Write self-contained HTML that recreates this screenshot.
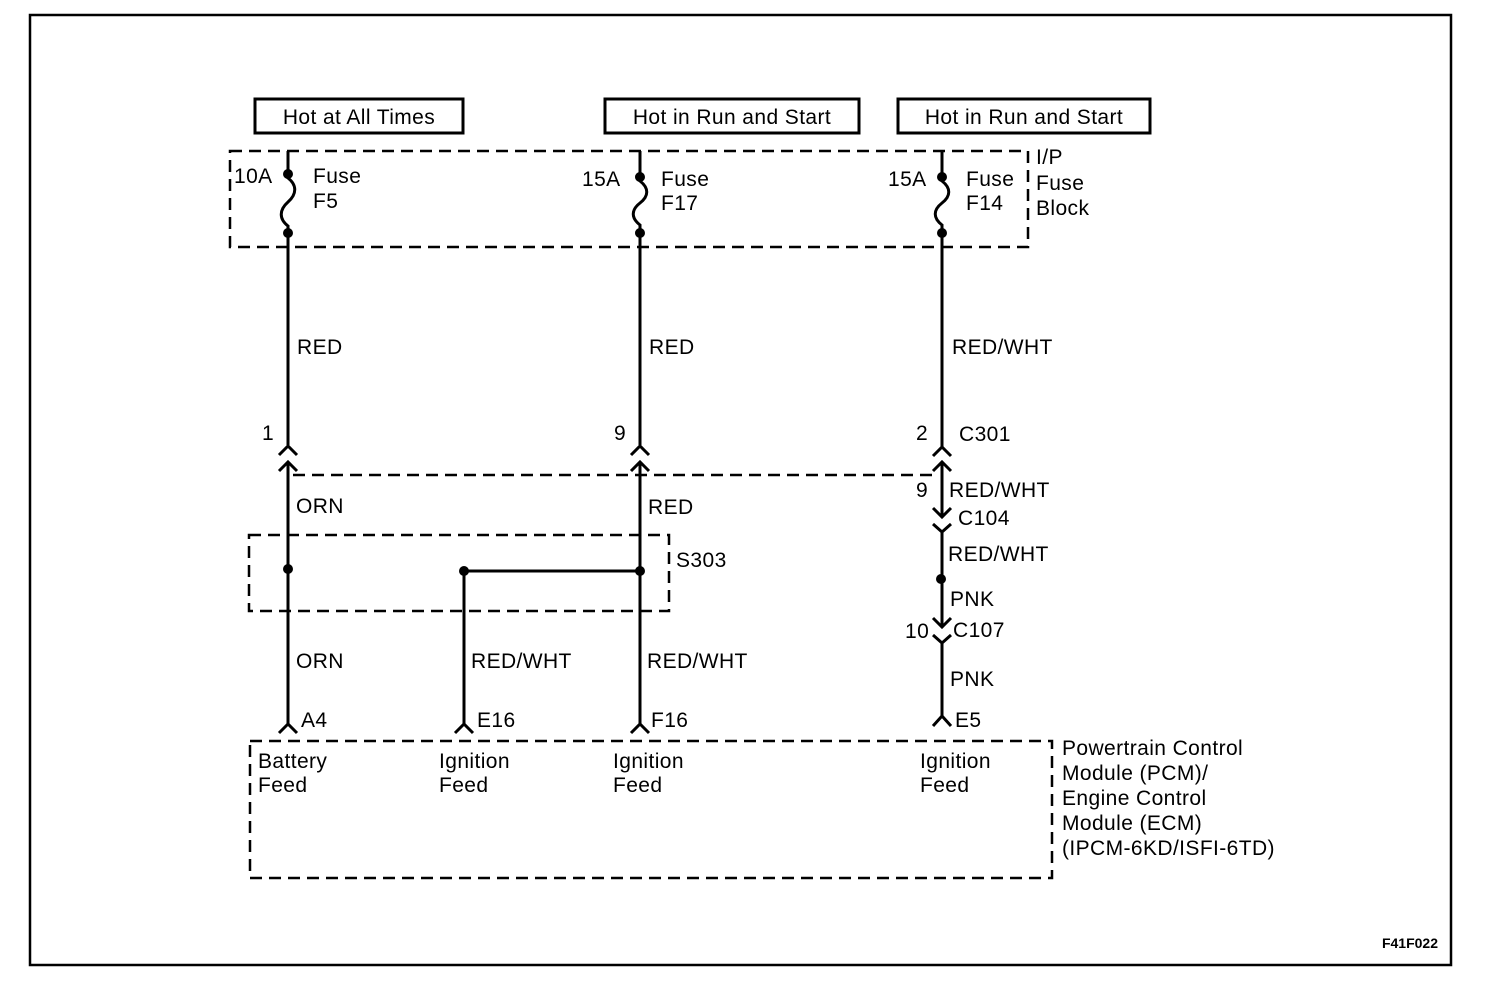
<!DOCTYPE html>
<html><head><meta charset="utf-8"><style>
html,body{margin:0;padding:0;background:#fff;}
svg{display:block;}
text{font-family:"Liberation Sans",Arial,sans-serif;font-size:21px;letter-spacing:0.4px;fill:#000;}
</style></head><body>
<svg width="1504" height="986" viewBox="0 0 1504 986" xmlns="http://www.w3.org/2000/svg">
<rect x="30" y="15" width="1421" height="950" fill="none" stroke="#000" stroke-width="2.5"/>
<g fill="none" stroke="#000" stroke-width="3">
<rect x="255" y="99" width="208" height="34"/>
<rect x="605" y="99" width="254" height="34"/>
<rect x="898" y="99" width="252" height="34"/>
</g>
<text x="359" y="124" text-anchor="middle">Hot at All Times</text>
<text x="732" y="124" text-anchor="middle">Hot in Run and Start</text>
<text x="1024" y="124" text-anchor="middle">Hot in Run and Start</text>
<g fill="none" stroke="#000" stroke-width="2.5" stroke-dasharray="12,7">
<rect x="230" y="151" width="798" height="96"/>
<rect x="249" y="535" width="420" height="76"/>
<rect x="250" y="741" width="802" height="137"/>
<line x1="293" y1="475" x2="935" y2="475"/>
</g>
<g fill="none" stroke="#000" stroke-width="3">
<path d="M288 151 V178 c9 7 9 16 0 24 c-9 8 -9 17 0 24 V445"/>
<path d="M279 455 L288 446 L297 455"/>
<path d="M279 471 L288 462 L297 471"/>
<path d="M288 463 V724"/>
<path d="M279 733 L288 724 L297 733"/>
<path d="M640 151 V181 c9 7 9 15 0 22 c-9 7 -9 15 0 22 V445"/>
<path d="M631 455 L640 446 L649 455"/>
<path d="M631 471 L640 462 L649 471"/>
<path d="M640 463 V724"/>
<path d="M631 733 L640 724 L649 733"/>
<path d="M464 571 H640"/>
<path d="M464 571 V724"/>
<path d="M455 733 L464 724 L473 733"/>
<path d="M942 151 V181 c9 7 9 15 0 22 c-9 7 -9 15 0 22 V447"/>
<path d="M933 456 L942 447 L951 456"/>
<path d="M933 471 L942 462 L951 471"/>
<path d="M942 463 V515"/>
<path d="M933 508 L942 517 L951 508"/>
<path d="M933 524 L942 532 L951 524"/>
<path d="M942 532 V627"/>
<path d="M933 618 L942 627 L951 618"/>
<path d="M933 635 L942 643 L951 635"/>
<path d="M942 643 V716"/>
<path d="M933 726 L942 716 L951 726"/>
</g>
<g fill="#000">
<circle cx="288" cy="174" r="5"/><circle cx="288" cy="233" r="5"/>
<circle cx="640" cy="177" r="5"/><circle cx="640" cy="233" r="5"/>
<circle cx="942" cy="177" r="5"/><circle cx="942" cy="233" r="5"/>
<circle cx="288" cy="569" r="5"/><circle cx="464" cy="571" r="5"/><circle cx="640" cy="571" r="5"/>
<circle cx="941" cy="579" r="5"/>
</g>
<text x="234" y="183">10A</text>
<text x="313" y="183">Fuse</text><text x="313" y="208">F5</text>
<text x="582" y="186">15A</text>
<text x="661" y="186">Fuse</text><text x="661" y="210">F17</text>
<text x="888" y="186">15A</text>
<text x="966" y="186">Fuse</text><text x="966" y="210">F14</text>
<text x="1036" y="164">I/P</text><text x="1036" y="190">Fuse</text><text x="1036" y="215">Block</text>
<text x="297" y="354">RED</text>
<text x="649" y="354">RED</text>
<text x="952" y="354">RED/WHT</text>
<text x="262" y="440">1</text>
<text x="614" y="440">9</text>
<text x="916" y="440">2</text>
<text x="959" y="441">C301</text>
<text x="296" y="513">ORN</text>
<text x="648" y="514">RED</text>
<text x="916" y="497">9</text>
<text x="949" y="497">RED/WHT</text>
<text x="958" y="525">C104</text>
<text x="948" y="561">RED/WHT</text>
<text x="676" y="567">S303</text>
<text x="950" y="606">PNK</text>
<text x="905" y="638">10</text>
<text x="953" y="637">C107</text>
<text x="950" y="686">PNK</text>
<text x="296" y="668">ORN</text>
<text x="471" y="668">RED/WHT</text>
<text x="647" y="668">RED/WHT</text>
<text x="301" y="727">A4</text>
<text x="477" y="727">E16</text>
<text x="651" y="727">F16</text>
<text x="955" y="727">E5</text>
<text x="258" y="768">Battery</text><text x="258" y="792">Feed</text>
<text x="439" y="768">Ignition</text><text x="439" y="792">Feed</text>
<text x="613" y="768">Ignition</text><text x="613" y="792">Feed</text>
<text x="920" y="768">Ignition</text><text x="920" y="792">Feed</text>
<text x="1062" y="755">Powertrain Control</text>
<text x="1062" y="780">Module (PCM)/</text>
<text x="1062" y="805">Engine Control</text>
<text x="1062" y="830">Module (ECM)</text>
<text x="1062" y="855">(IPCM-6KD/ISFI-6TD)</text>
<text x="1438" y="948" text-anchor="end" style="font-size:14px;font-weight:bold;letter-spacing:0">F41F022</text>
</svg>
</body></html>
